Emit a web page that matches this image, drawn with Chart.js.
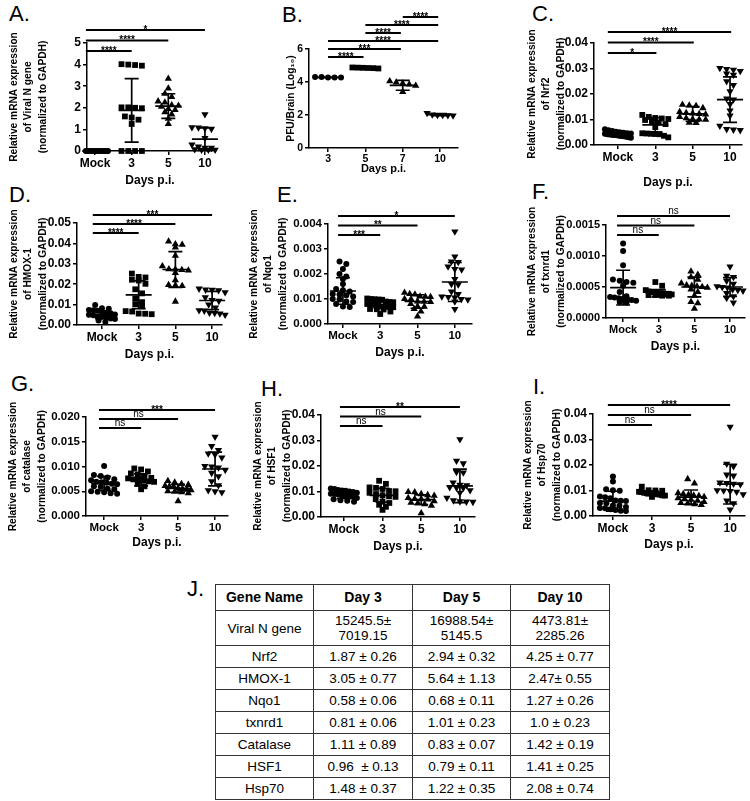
<!DOCTYPE html>
<html>
<head>
<meta charset="utf-8">
<script src="https://cdn.jsdelivr.net/npm/chart.js@4.4.1/dist/chart.umd.min.js"></script>
<style>
  body { margin: 0; background: #fff; width: 750px; height: 801px; position: relative; overflow: hidden;
         font-family: 'Liberation Sans', Arial, sans-serif; }
  canvas { position: absolute; }
  .lbl { position: absolute; font-size: 22px; line-height: 1; color: #000; }
  #tbl { position: absolute; left: 215px; top: 584px; width: 394px; border-collapse: collapse;
         font-size: 13.5px; color: #000; table-layout: fixed; }
  #tbl td, #tbl th { border: 1px solid #333; text-align: center; padding: 0; white-space: pre; line-height: 15px; }
  #tbl th { font-size: 14px; font-weight: bold; }
</style>
</head>
<body>
<table id="tbl"></table>
<script>
// ---------- data ----------
var days = ['Mock', '3', '5', '10'];
var pfuDays = ['3', '5', '7', '10'];

// A. Viral N gene
var viralNMock = [0, 0, 0, 0, 0, 0, 0, 0, 0, 0, 0, 0, 0, 0, 0];
var viralN3 = [4.02, 3.98, 3.95, 4.0, 2.02, 2.0, 2.02, 1.98, 1.6, 1.55, 1.45, 1.25, 0, 0, 0, 0];
var viralN5 = [3.35, 2.9, 2.65, 2.5, 2.3, 2.25, 2.12, 2.1, 2.05, 1.95, 1.9, 1.8, 1.7, 1.5, 1.25];
var viralN10 = [1.7, 1.1, 1.08, 1.05, 1.02, 0.95, 0.6, 0.3, 0.2, 0.15, 0.15, 0.1, 0.08, 0.05, 0.05, 0.05];
var viralNMean = [0, 1.88, 2.08, 0.55];
var viralNSd = [0, 1.47, 0.57, 0.52];
var viralNTicks = ['0', '1', '2', '3', '4', '5'];
var viralNSig = [[0, 1, '****'], [0, 2, '****'], [0, 3, '*']];

// B. PFU / brain
var pfu3 = [4.3, 4.28, 4.27, 4.28, 4.3];
var pfu5 = [4.88, 4.85, 4.82, 4.84, 4.86, 4.87];
var pfu7 = [4.05, 3.98, 3.92, 3.85, 3.78, 3.4];
var pfu10 = [2.12, 2.02, 2.0, 1.98, 1.97, 2.0];
var pfuMean = [4.28, 4.85, 3.8, 2.02];
var pfuSd = [0.02, 0.03, 0.3, 0.06];
var pfuTicks = ['0', '2', '4', '6'];
var pfuSig = [[0, 1, '****'], [0, 2, '***'], [0, 3, '****'], [1, 2, '****'], [1, 3, '****'], [2, 3, '****']];

// C. Nrf2
var nrf2Mock = [0.0062, 0.0058, 0.0055, 0.0052, 0.005, 0.0048, 0.0046, 0.0045, 0.0044, 0.0042, 0.0041, 0.004, 0.0039, 0.0038, 0.0036, 0.0035, 0.0034, 0.0032, 0.003, 0.0028];
var nrf23 = [0.0118, 0.011, 0.0106, 0.0104, 0.0102, 0.0098, 0.0093, 0.0088, 0.0082, 0.007, 0.0046, 0.0045, 0.0044, 0.0043, 0.0042, 0.0036, 0.003];
var nrf25 = [0.0158, 0.0155, 0.0153, 0.0145, 0.013, 0.0126, 0.0124, 0.0122, 0.012, 0.011, 0.0105, 0.0101, 0.01, 0.0099, 0.0088, 0.0087];
var nrf210 = [0.0302, 0.0298, 0.0295, 0.029, 0.028, 0.0275, 0.025, 0.0235, 0.021, 0.0182, 0.0178, 0.016, 0.0135, 0.0115, 0.0075, 0.0062, 0.006, 0.0058];
var nrf2Mean = [0.0042, 0.0079, 0.0122, 0.0178];
var nrf2Sd = [0.0009, 0.0028, 0.0029, 0.0089];
var nrf2Ticks = ['0.00', '0.01', '0.02', '0.03', '0.04'];
var nrf2Sig = [[0, 1, '*'], [0, 2, '****'], [0, 3, '****']];

// D. HMOX-1
var hmoxMock = [0.0098, 0.0082, 0.008, 0.0074, 0.0072, 0.007, 0.0062, 0.006, 0.0058, 0.0052, 0.005, 0.0048, 0.0042, 0.004, 0.0038, 0.0032, 0.003, 0.0022, 0.0015];
var hmox3 = [0.0252, 0.0236, 0.0233, 0.0222, 0.0218, 0.0202, 0.0175, 0.0155, 0.013, 0.0112, 0.0102, 0.0092, 0.0068, 0.0066, 0.0056, 0.0055, 0.0053];
var hmox5 = [0.041, 0.0396, 0.0394, 0.038, 0.034, 0.0288, 0.0274, 0.0272, 0.027, 0.0268, 0.0255, 0.022, 0.0196, 0.0194, 0.0192, 0.0115];
var hmox10 = [0.0178, 0.0173, 0.0172, 0.017, 0.016, 0.0135, 0.0122, 0.0118, 0.01, 0.0085, 0.0072, 0.007, 0.006, 0.0058, 0.0056, 0.005];
var hmoxMean = [0.0049, 0.0148, 0.0272, 0.012];
var hmoxSd = [0.0018, 0.0068, 0.0088, 0.0045];
var hmoxTicks = ['0.00', '0.01', '0.02', '0.03', '0.04', '0.05'];
var hmoxSig = [[0, 1, '****'], [0, 2, '****'], [0, 3, '***']];

// E. Nqo1
var nqoMock = [0.0025, 0.0024, 0.0022, 0.002, 0.0019, 0.0018, 0.0016, 0.0014, 0.00135, 0.0013, 0.0012, 0.00118, 0.00115, 0.0011, 0.001, 0.00098, 0.0009, 0.00088, 0.0008, 0.0007, 0.00068];
var nqo3 = [0.00102, 0.001, 0.00099, 0.00098, 0.00097, 0.0009, 0.00088, 0.00087, 0.0008, 0.00079, 0.00078, 0.00077, 0.0007, 0.00069, 0.00068, 0.00067, 0.0006, 0.00059, 0.00058, 0.0005, 0.0004];
var nqo5 = [0.00125, 0.0012, 0.00118, 0.0011, 0.00109, 0.00108, 0.001, 0.00099, 0.0009, 0.00089, 0.00088, 0.0008, 0.0007, 0.00069, 0.0006, 0.0005, 0.0003];
var nqo10 = [0.0037, 0.0027, 0.0025, 0.00248, 0.0023, 0.0022, 0.00218, 0.0018, 0.0016, 0.00158, 0.0013, 0.0012, 0.0011, 0.00108, 0.00106, 0.001, 0.00098, 0.0009, 0.0006];
var nqoMean = [0.00132, 0.00076, 0.0009, 0.00168];
var nqoSd = [0.00053, 0.00012, 0.00027, 0.00078];
var nqoTicks = ['0.000', '0.001', '0.002', '0.003', '0.004'];
var nqoSig = [[0, 1, '***'], [0, 2, '**'], [0, 3, '*']];

// F. txnrd1
var txnMock = [0.0012, 0.00108, 0.00085, 0.00062, 0.0006, 0.00058, 0.00057, 0.00052, 0.00042, 0.00035, 0.00034, 0.00033, 0.00032, 0.00031, 0.0003, 0.00029, 0.00028, 0.00026, 0.00025];
var txn3 = [0.00058, 0.00052, 0.00045, 0.00043, 0.00042, 0.00042, 0.00041, 0.0004, 0.0004, 0.00039, 0.00039, 0.00038, 0.00037, 0.00037, 0.00036, 0.00036];
var txn5 = [0.00075, 0.0007, 0.00066, 0.00062, 0.00056, 0.00053, 0.00052, 0.00051, 0.0005, 0.00049, 0.00046, 0.00042, 0.00036, 0.00026, 0.00024, 0.00015];
var txn10 = [0.00083, 0.00068, 0.00066, 0.0006, 0.00055, 0.00051, 0.0005, 0.00049, 0.00046, 0.00045, 0.00044, 0.0004, 0.00035, 0.00032, 0.00025];
var txnMean = [0.00049, 0.0004, 0.0005, 0.0005];
var txnSd = [0.00028, 0.00006, 0.00016, 0.00015];
var txnTicks = ['0.0000', '0.0005', '0.0010', '0.0015'];
var txnSig = [[0, 1, 'ns'], [0, 2, 'ns'], [0, 3, 'ns']];

// G. Catalase
var catMock = [0.0101, 0.0083, 0.0081, 0.0078, 0.0074, 0.0072, 0.0069, 0.0068, 0.0067, 0.0065, 0.0064, 0.006, 0.0059, 0.0055, 0.0054, 0.005, 0.0049, 0.0048, 0.0046, 0.0045];
var cat3 = [0.0096, 0.0094, 0.009, 0.0086, 0.0084, 0.008, 0.0077, 0.0076, 0.0074, 0.0073, 0.0072, 0.007, 0.0069, 0.0065, 0.006, 0.0054];
var cat5 = [0.0071, 0.0068, 0.0065, 0.0063, 0.0061, 0.006, 0.0059, 0.0056, 0.0055, 0.0053, 0.0052, 0.005, 0.0049, 0.0048, 0.0046, 0.003];
var cat10 = [0.016, 0.0141, 0.0133, 0.0126, 0.0124, 0.0118, 0.0101, 0.01, 0.0098, 0.0093, 0.0087, 0.008, 0.007, 0.0062, 0.0052, 0.005, 0.0048];
var catMean = [0.0066, 0.0073, 0.0056, 0.0095];
var catSd = [0.0014, 0.0012, 0.0008, 0.0034];
var catTicks = ['0.000', '0.005', '0.010', '0.015', '0.020'];
var catSig = [[0, 1, 'ns'], [0, 2, 'ns'], [0, 3, '***']];

// H. HSF1
var hsfMock = [0.0112, 0.011, 0.0106, 0.0104, 0.0103, 0.01, 0.0098, 0.0095, 0.0091, 0.009, 0.0089, 0.0086, 0.0084, 0.008, 0.0079, 0.0075, 0.007, 0.0066, 0.0064, 0.006];
var hsf3 = [0.0142, 0.013, 0.0116, 0.0114, 0.011, 0.0102, 0.0101, 0.0095, 0.009, 0.0085, 0.0081, 0.0079, 0.007, 0.006, 0.0055, 0.0048, 0.004, 0.0028];
var hsf5 = [0.0098, 0.0097, 0.009, 0.0086, 0.0084, 0.0075, 0.0071, 0.007, 0.0069, 0.0062, 0.0056, 0.0054, 0.005, 0.0045, 0.0015];
var hsf10 = [0.0305, 0.022, 0.021, 0.0176, 0.0174, 0.0135, 0.0126, 0.0124, 0.0116, 0.0115, 0.0114, 0.0105, 0.0095, 0.0075, 0.0065, 0.0061, 0.006, 0.0059];
var hsfMean = [0.0088, 0.0085, 0.0068, 0.0122];
var hsfSd = [0.0015, 0.0027, 0.0019, 0.0066];
var hsfTicks = ['0.00', '0.01', '0.02', '0.03', '0.04'];
var hsfSig = [[0, 1, 'ns'], [0, 2, 'ns'], [0, 3, '**']];

// I. Hsp70
var hspMock = [0.0155, 0.0135, 0.0105, 0.0101, 0.0099, 0.0076, 0.0074, 0.007, 0.0061, 0.006, 0.0059, 0.0051, 0.005, 0.0041, 0.004, 0.0035, 0.0031, 0.003, 0.0026, 0.0024, 0.0021, 0.002];
var hsp3 = [0.0115, 0.0101, 0.01, 0.0099, 0.0095, 0.0094, 0.0091, 0.009, 0.0089, 0.0088, 0.0086, 0.0085, 0.0084, 0.0081, 0.008, 0.0075];
var hsp5 = [0.0145, 0.0128, 0.009, 0.0086, 0.0084, 0.0081, 0.0079, 0.0075, 0.007, 0.0066, 0.0064, 0.006, 0.0055, 0.0051, 0.0049, 0.0046, 0.0044];
var hsp10 = [0.035, 0.0205, 0.0195, 0.0162, 0.0158, 0.0131, 0.0129, 0.0126, 0.0124, 0.0101, 0.01, 0.0098, 0.0095, 0.0085, 0.006, 0.005, 0.0025];
var hspMean = [0.0058, 0.0089, 0.0074, 0.0125];
var hspSd = [0.0039, 0.0009, 0.0028, 0.0078];
var hspTicks = ['0.00', '0.01', '0.02', '0.03', '0.04'];
var hspSig = [[0, 1, 'ns'], [0, 2, 'ns'], [0, 3, '****']];

// J. fold change table
var tableHead = ['Gene Name', 'Day 3', 'Day 5', 'Day 10'];
var geneNames = ['Viral N gene', 'Nrf2', 'HMOX-1', 'Nqo1', 'txnrd1', 'Catalase', 'HSF1', 'Hsp70'];
var foldDay3 = ['15245.5±\n7019.15', '1.87 ± 0.26', '3.05 ± 0.77', '0.58 ± 0.06', '0.81 ± 0.06', '1.11 ± 0.89', '0.96  ± 0.13', '1.48 ± 0.37'];
var foldDay5 = ['16988.54±\n5145.5', '2.94 ± 0.32', '5.64 ± 1.13', '0.68 ± 0.11', '1.01 ± 0.23', '0.83 ± 0.07', '0.79 ± 0.11', '1.22 ± 0.35'];
var foldDay10 = ['4473.81±\n2285.26', '4.25 ± 0.77', '2.47± 0.55', '1.27 ± 0.26', '1.0 ± 0.23', '1.42 ± 0.19', '1.41 ± 0.25', '2.08 ± 0.74'];

// ---------- layout ----------
var FONT = "'Liberation Sans', Arial, sans-serif";
var rel = ['Relative mRNA expression', '', '(normalized to GAPDH)'];
function geneTitle(name) { return [rel[0], 'of ' + name, rel[2]]; }

// box = canvas [x, y, w, h], axis = [left, top, right, bottom] in page pixels
var panels = [
  { id: 'A', cats: days, groups: [viralNMock, viralN3, viralN5, viralN10], mean: viralNMean, sd: viralNSd, ticks: viralNTicks, sig: viralNSig,
    title: geneTitle('Viral N gene'), box: [0, 20, 250, 180], axis: [87, 43, 213, 151], xr: [-0.22, 3.22], titleX: 14, daysY: 181,
    sigStart: 8, sigGap: 10.5, sigFrom: 0.25, sigTo: 0, tickSize: 12, daysSize: 12 },
  { id: 'B', cats: pfuDays, groups: [pfu3, pfu5, pfu7, pfu10], mean: pfuMean, sd: pfuSd, ticks: pfuTicks, sig: pfuSig,
    title: 'PFU/Brain (Log\u2081\u2080)', box: [250, 6, 250, 174], axis: [309, 49, 458, 148], xr: [-0.51, 3.48], titleX: 291, daysY: 169,
    sigStart: 8, sigGap: 8, sigFrom: 0, sigTo: -0.05, tickSize: 10.5, daysSize: 11 },
  { id: 'C', cats: days, groups: [nrf2Mock, nrf23, nrf25, nrf210], mean: nrf2Mean, sd: nrf2Sd, ticks: nrf2Ticks, sig: nrf2Sig,
    title: geneTitle('Nrf2'), box: [500, 20, 250, 180], axis: [594, 43, 742, 145], xr: [-0.64, 3.32], titleX: 532, daysY: 183,
    sigStart: 10, sigGap: 10.5, sigFrom: 0.27, sigTo: 0.03, tickSize: 12, daysSize: 12 },
  { id: 'D', cats: days, groups: [hmoxMock, hmox3, hmox5, hmox10], mean: hmoxMean, sd: hmoxSd, ticks: hmoxTicks, sig: hmoxSig,
    title: geneTitle('HMOX-1'), box: [0, 205, 250, 165], axis: [77, 223, 222, 325], xr: [-0.68, 3.27], titleX: 14, daysY: 355,
    sigStart: 10, sigGap: 9, sigFrom: 0.25, sigTo: 0, tickSize: 12, daysSize: 12 },
  { id: 'E', cats: days, groups: [nqoMock, nqo3, nqo5, nqo10], mean: nqoMean, sd: nqoSd, ticks: nqoTicks, sig: nqoSig,
    title: geneTitle('Nqo1'), box: [244, 205, 256, 165], axis: [328, 224, 472, 324], xr: [-0.4, 3.46], titleX: 254, daysY: 353,
    sigStart: 11, sigGap: 9.5, sigFrom: 0.13, sigTo: 0, tickSize: 11.5, daysSize: 12 },
  { id: 'F', cats: days, groups: [txnMock, txn3, txn5, txn10], mean: txnMean, sd: txnSd, ticks: txnTicks, sig: txnSig,
    title: geneTitle('txnrd1'), box: [500, 205, 250, 165], axis: [606, 225, 745, 318], xr: [-0.48, 3.42], titleX: 532, daysY: 347,
    sigStart: 10, sigGap: 9.5, sigFrom: 0.17, sigTo: 0, tickSize: 11, daysSize: 12 },
  { id: 'G', cats: days, groups: [catMock, cat3, cat5, cat10], mean: catMean, sd: catSd, ticks: catTicks, sig: catSig,
    title: geneTitle('catalase'), box: [0, 392, 250, 166], axis: [86, 417, 228, 516], xr: [-0.49, 3.35], titleX: 13, daysY: 543,
    sigStart: 11, sigGap: 9, sigFrom: 0.14, sigTo: 0, tickSize: 11.5, daysSize: 12 },
  { id: 'H', cats: days, groups: [hsfMock, hsf3, hsf5, hsf10], mean: hsfMean, sd: hsfSd, ticks: hsfTicks, sig: hsfSig,
    title: geneTitle('HSF1'), box: [248, 392, 252, 166], axis: [321, 415, 475, 517], xr: [-0.59, 3.39], titleX: 258, daysY: 547,
    sigStart: 11, sigGap: 9.5, sigFrom: 0.1, sigTo: 0, tickSize: 12, daysSize: 12 },
  { id: 'I', cats: days, groups: [hspMock, hsp3, hsp5, hsp10], mean: hspMean, sd: hspSd, ticks: hspTicks, sig: hspSig,
    title: geneTitle('Hsp70'), box: [500, 392, 250, 166], axis: [593, 414, 745, 516], xr: [-0.51, 3.38], titleX: 528, daysY: 545,
    sigStart: 11, sigGap: 10, sigFrom: 0.13, sigTo: 0, tickSize: 12, daysSize: 12 }
];

// panel letters: [text, left, top]
var letters = [['A.', 9, 3], ['B.', 282, 4], ['C.', 532, 3], ['D.', 9, 184], ['E.', 277, 184], ['F.', 532, 181],
               ['G.', 11, 373], ['H.', 261, 378], ['I.', 533, 376], ['J.', 187, 578]];
letters.forEach(function (l) {
  var d = document.createElement('div');
  d.className = 'lbl';
  d.textContent = l[0];
  d.style.left = l[1] + 'px';
  d.style.top = l[2] + 'px';
  document.body.appendChild(d);
});

var styles = ['circle', 'rect', 'triangle', 'triangle'];
var rotations = [0, 0, 0, 180];
var radii = [3, 4.1, 4.2, 4.2];

// Prism style column scatter: points of similar height are laid side by side
function swarm(values, idx, xs, ys) {
  var sorted = values.slice().sort(function (a, b) { return b - a; });
  var pts = [];
  var i = 0;
  var cx = xs.getPixelForValue(idx);
  while (i < sorted.length) {
    var y0 = ys.getPixelForValue(sorted[i]);
    var j = i;
    while (j < sorted.length && ys.getPixelForValue(sorted[j]) - y0 < 4.5) j++;
    var n = j - i;
    var step = n > 1 ? Math.min(6.8, 26 / (n - 1)) : 0;
    for (var k = 0; k < n; k++) {
      pts.push({ x: xs.getValueForPixel(cx + (k - (n - 1) / 2) * step), y: sorted[i + k] });
    }
    i = j;
  }
  return pts;
}

// mean +/- SD and the significance brackets
function marks(p) {
  return {
    id: 'marks' + p.id,
    afterDatasetsDraw: function (chart) {
      var ctx = chart.ctx, x = chart.scales.x, y = chart.scales.y, area = chart.chartArea;
      ctx.save();
      ctx.strokeStyle = '#000';
      ctx.fillStyle = '#000';
      ctx.lineWidth = 1.7;
      p.mean.forEach(function (m, i) {
        var cx = x.getPixelForValue(i);
        var ym = y.getPixelForValue(m);
        var yt = y.getPixelForValue(m + p.sd[i]);
        var yb = y.getPixelForValue(Math.max(0, m - p.sd[i]));
        ctx.beginPath();
        ctx.moveTo(cx - 13, ym); ctx.lineTo(cx + 13, ym);
        ctx.moveTo(cx, yt); ctx.lineTo(cx, yb);
        ctx.moveTo(cx - 7, yt); ctx.lineTo(cx + 7, yt);
        ctx.moveTo(cx - 7, yb); ctx.lineTo(cx + 7, yb);
        ctx.stroke();
      });
      ctx.lineWidth = 1.8;
      ctx.textAlign = 'center';
      ctx.textBaseline = 'alphabetic';
      p.sig.forEach(function (s, k) {
        var yy = area.top + p.sigStart - k * p.sigGap;
        var x0 = x.getPixelForValue(s[0] - p.sigFrom);
        var x1 = x.getPixelForValue(s[1] + p.sigTo);
        ctx.beginPath();
        ctx.moveTo(x0, yy); ctx.lineTo(x1, yy);
        ctx.stroke();
        if (s[2] === 'ns') {
          ctx.font = '10px ' + FONT;
          ctx.fillText(s[2], (x0 + x1) / 2, yy - 2);
        } else {
          ctx.font = 'bold 10px ' + FONT;
          ctx.fillText(s[2], (x0 + x1) / 2, yy + 2.5);
        }
      });
      ctx.restore();
    }
  };
}

panels.forEach(function (p) {
  var bx = p.box[0], by = p.box[1], bw = p.box[2], bh = p.box[3];
  var al = p.axis[0], at = p.axis[1], ar = p.axis[2], ab = p.axis[3];
  var cv = document.createElement('canvas');
  cv.width = bw; cv.height = bh;
  cv.style.left = bx + 'px'; cv.style.top = by + 'px';
  document.body.appendChild(cv);
  var yVals = p.ticks.map(Number);
  var axisLine = { color: '#000', width: 1.5 };
  var tickGrid = { drawOnChartArea: false, drawTicks: true, tickLength: 4, color: '#000', lineWidth: 1.5 };
  var dayLH = p.daysSize * 1.2;
  var chart = new Chart(cv, {
    type: 'scatter',
    data: {
      datasets: p.groups.map(function (g, i) {
        return {
          data: g.map(function (v) { return { x: i, y: v }; }),
          pointStyle: styles[i], pointRotation: rotations[i], pointRadius: radii[i],
          pointBackgroundColor: '#000', pointBorderWidth: 0, clip: false
        };
      })
    },
    options: {
      responsive: false, animation: false, events: [],
      layout: { padding: { left: 0, top: at - by, right: bx + bw - ar, bottom: 0 } },
      plugins: { legend: { display: false }, tooltip: { enabled: false } },
      scales: {
        x: {
          type: 'linear', min: p.xr[0], max: p.xr[1],
          afterFit: function (s) { s.height = by + bh - ab; },
          afterBuildTicks: function (s) { s.ticks = p.cats.map(function (c, i) { return { value: i }; }); },
          ticks: { callback: function (v, i) { return p.cats[i]; }, color: '#000', padding: 1,
                   font: { family: FONT, size: p.tickSize, weight: 'bold' }, maxRotation: 0, autoSkip: false },
          grid: tickGrid, border: axisLine,
          title: { display: true, text: 'Days p.i.', color: '#000', font: { family: FONT, size: p.daysSize, weight: 'bold' },
                   padding: { top: 0, bottom: by + bh - p.daysY - dayLH / 2 } }
        },
        y: {
          min: 0, max: yVals[yVals.length - 1],
          afterFit: function (s) { s.width = al - bx; },
          afterBuildTicks: function (s) { s.ticks = yVals.map(function (v) { return { value: v }; }); },
          ticks: { callback: function (v, i) { return p.ticks[i]; }, color: '#000', padding: 2,
                   font: { family: FONT, size: p.tickSize, weight: 'bold' } },
          grid: tickGrid, border: axisLine,
          title: { display: true, text: p.title, color: '#000', font: { family: FONT, size: 10.2, weight: 'bold', lineHeight: 1.42 },
                   padding: { top: p.titleX - bx - 7.25, bottom: 0 } }
        }
      }
    },
    plugins: [marks(p)]
  });
  chart.data.datasets.forEach(function (ds, i) {
    ds.data = swarm(p.groups[i], i, chart.scales.x, chart.scales.y);
  });
  chart.update();
});

// table J
var tbl = document.getElementById('tbl');
var html = '<colgroup><col style="width:98px"><col style="width:99px"><col style="width:98px"><col style="width:99px"></colgroup>';
html += '<tr style="height:26px">' + tableHead.map(function (h) { return '<th>' + h + '</th>'; }).join('') + '</tr>';
geneNames.forEach(function (g, i) {
  html += '<tr style="height:' + (i === 0 ? 35 : 22) + 'px"><td>' + g + '</td><td>' + foldDay3[i] + '</td><td>' +
          foldDay5[i] + '</td><td>' + foldDay10[i] + '</td></tr>';
});
tbl.innerHTML = html;
</script>
</body>
</html>
